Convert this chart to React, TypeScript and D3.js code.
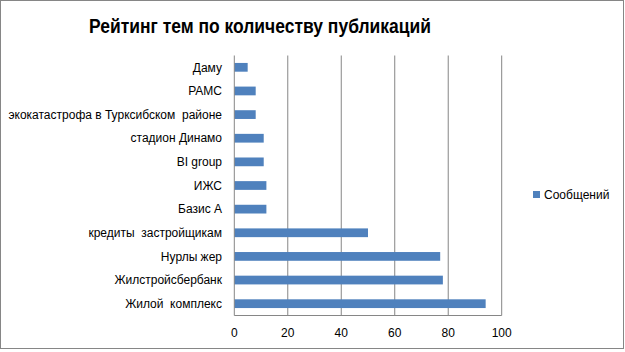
import React from "react";
import * as d3 from "d3";

const categories = [
  "Даму",
  "РАМС",
  "экокатастрофа в Турксибском  районе",
  "стадион Динамо",
  "BI group",
  "ИЖС",
  "Базис А",
  "кредиты  застройщикам",
  "Нурлы жер",
  "Жилстройсбербанк",
  "Жилой  комплекс",
];
const values = [5, 8, 8, 11, 11, 12, 12, 50, 77, 78, 94];
const xTicks = [0, 20, 40, 60, 80, 100];
const seriesName = "Сообщений";
const title = "Рейтинг тем по количеству публикаций";

export default function App() {
  const W = 625, H = 352;
  const left = 234.3, right = 501.7, top = 55.5, bottom = 315.5;
  const x = d3.scaleLinear().domain([0, 100]).range([left, right]);
  const y = d3.scaleBand().domain(categories).range([top, bottom]).paddingInner(0.63).paddingOuter(0.315);
  const font = "'Liberation Sans', Arial, sans-serif";
  return (
    <svg width={W} height={H} style={{ position: "absolute", left: 0, top: 0 }} fontFamily={font}>
      <rect x={0.5} y={0.5} width={W - 2} height={H - 4} fill="#fff" stroke="#868686" />
      <text x={89} y={33} fontSize={20} fontWeight="bold" fill="#000" textLength={342} lengthAdjust="spacingAndGlyphs">{title}</text>
      {xTicks.slice(1).map((t) => (
        <line key={t} x1={x(t)} x2={x(t)} y1={top} y2={bottom} stroke="#868686" strokeWidth={1} />
      ))}
      {categories.map((c, i) => (
        <rect key={c} x={x(0)} y={y(c)!} width={x(values[i]) - x(0)} height={y.bandwidth()} fill="#4F81BD" />
      ))}
      <line x1={x(0)} x2={x(0)} y1={top} y2={bottom} stroke="#868686" />
      <line x1={x(0)} x2={x(100)} y1={bottom} y2={bottom} stroke="#868686" />
      {categories.map((c) => (
        <text key={c} x={222} y={y(c)! + y.bandwidth() / 2} dy="0.35em" textAnchor="end" fontSize={12} fill="#000" style={{ whiteSpace: "pre" }}>{c}</text>
      ))}
      {xTicks.map((t) => (
        <text key={t} x={x(t)} y={337} textAnchor="middle" fontSize={12} fill="#000">{t}</text>
      ))}
      <rect x={533} y={191} width={7} height={7} fill="#4F81BD" />
      <text x={544} y={199} fontSize={12} fill="#000">{seriesName}</text>
    </svg>
  );
}
